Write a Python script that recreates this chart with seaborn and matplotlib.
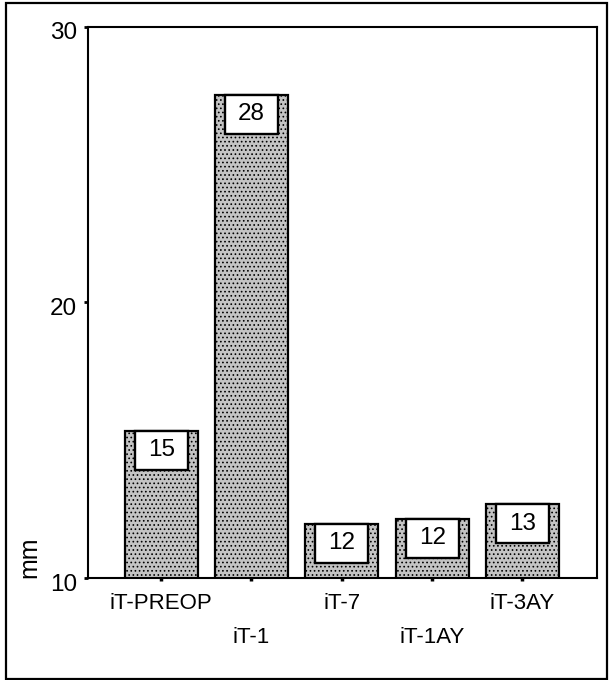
import matplotlib
matplotlib.use("Agg")
import matplotlib.pyplot as plt
from matplotlib.patches import Rectangle
from matplotlib.transforms import ScaledTranslation
import seaborn as sns
import pandas as pd

# Mean thickness per measurement time (mm)
categories = ["iT-PREOP", "iT-1", "iT-7", "iT-1AY", "iT-3AY"]
values = [15.34, 27.52, 11.96, 12.14, 12.67]
y_ticks = [10, 20, 30]

sns.set_theme(style="white")
plt.rcParams["font.family"] = ["Liberation Sans", "DejaVu Sans"]
plt.rcParams["hatch.linewidth"] = 0.7

df = pd.DataFrame({"time": categories, "mm": values})

fig = plt.figure(figsize=(6.09, 6.80), dpi=100)
ax = fig.add_axes([0.1445, 0.15, 0.835, 0.811])

sns.barplot(data=df, x="time", y="mm", ax=ax, color="#c4c4c4", saturation=1,
            edgecolor="black", linewidth=1.6, width=0.81)

# stippled fill on the bars
for bar in ax.patches:
    bar.set_hatch("....")

ax.set_ylim(10, 30)
ax.set_xlim(-0.81, 4.82)
ax.set_yticks(y_ticks)
ax.set_yticklabels([str(t) for t in y_ticks])

for side in ["left", "bottom", "top", "right"]:
    ax.spines[side].set_visible(True)
    ax.spines[side].set_color("black")
    ax.spines[side].set_linewidth(1.5)

ax.tick_params(axis="y", direction="out", length=3, width=2, pad=5,
               labelsize=17.5, colors="black", left=True)
ax.tick_params(axis="x", direction="out", length=2.5, width=2.5, pad=8,
               labelsize=16, colors="black", bottom=True)

# y labels sit slightly below their tick marks
shift = ScaledTranslation(0, -3 / 72, fig.dpi_scale_trans)
for lbl in ax.get_yticklabels():
    lbl.set_transform(lbl.get_transform() + shift)

# stagger the category labels on two rows
for i, tick in enumerate(ax.xaxis.get_major_ticks()):
    if i % 2 == 1:
        tick.set_pad(33)

ax.set_xlabel("")
ax.set_ylabel("mm", fontsize=18, color="black", loc="bottom")
ax.yaxis.set_label_coords(-0.092, 0.0)

# value boxes hanging from the top of each bar
box_w, box_h = 0.586, 1.41
for i, v in enumerate(values):
    ax.add_patch(Rectangle((i - box_w / 2, v - box_h), box_w, box_h,
                           facecolor="white", edgecolor="black",
                           linewidth=1.7, zorder=3))
    ax.text(i, v - box_h / 2, f"{v:.0f}", ha="center", va="center",
            fontsize=17.5, color="black", zorder=4)

# outer frame around the whole figure
fig.patches.append(Rectangle((6 / 609, 1 - 679 / 680), 601 / 609, 676 / 680,
                             transform=fig.transFigure, fill=False,
                             edgecolor="black", linewidth=1.6))

fig.savefig("out.png", dpi=100, facecolor="white")
